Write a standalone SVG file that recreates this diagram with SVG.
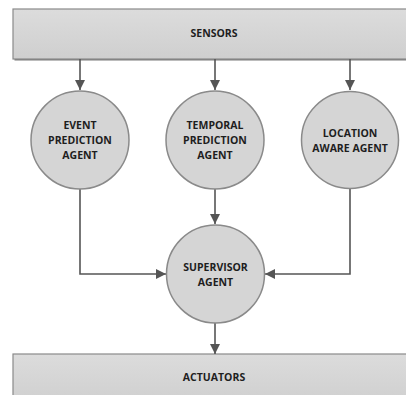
<svg xmlns="http://www.w3.org/2000/svg" width="406" height="395" viewBox="0 0 406 395">
<defs>
<linearGradient id="boxg" x1="0" y1="0" x2="0" y2="1">
<stop offset="0" stop-color="#dcdcdc"/>
<stop offset="1" stop-color="#cfcfcf"/>
</linearGradient>
<marker id="ah" viewBox="0 0 10 10" refX="10" refY="5" markerWidth="10" markerHeight="10" markerUnits="userSpaceOnUse" orient="auto">
<path d="M0,0 L10,5 L0,10 Z" fill="#555"/>
</marker>
</defs>
<style>
.box{fill:url(#boxg);stroke:#8a8a8a;stroke-width:1.2}
.shadow{fill:#7a7a7a}
.node{fill:#d5d5d5;stroke:#8a8a8a;stroke-width:1.5}
.lbl{font-family:"Open Sans","Liberation Sans",sans-serif;font-weight:700;font-size:10.5px;fill:#1e1e1e;text-anchor:middle}
.conn{fill:none;stroke:#555;stroke-width:1.6;marker-end:url(#ah)}
</style>
<g id="sensors">
<rect class="shadow" x="14.5" y="10.5" width="400" height="50"/>
<rect class="box" x="13" y="9" width="400" height="50"/>
<text class="lbl" x="214" y="37">SENSORS</text>
</g>
<g id="actuators">
<rect class="shadow" x="14.5" y="355.5" width="400" height="50"/>
<rect class="box" x="13" y="354" width="400" height="50"/>
<text class="lbl" x="214" y="381">ACTUATORS</text>
</g>
<g id="connectors">
<path class="conn" d="M80,59 V90"/>
<path class="conn" d="M215,59 V90"/>
<path class="conn" d="M350,59 V90"/>
<path class="conn" d="M215,189 V224"/>
<path class="conn" d="M80,189 V274 H166"/>
<path class="conn" d="M350,188 V274 H265"/>
<path class="conn" d="M215,323 V354"/>
</g>
<g id="event">
<circle class="node" cx="80" cy="140" r="49"/>
<text class="lbl" x="80" y="129">EVENT</text>
<text class="lbl" x="80" y="144">PREDICTION</text>
<text class="lbl" x="80" y="159">AGENT</text>
</g>
<g id="temporal">
<circle class="node" cx="215" cy="140" r="49"/>
<text class="lbl" x="215" y="129">TEMPORAL</text>
<text class="lbl" x="215" y="144">PREDICTION</text>
<text class="lbl" x="215" y="159">AGENT</text>
</g>
<g id="location">
<circle class="node" cx="350" cy="140" r="48.5"/>
<text class="lbl" x="350" y="137">LOCATION</text>
<text class="lbl" x="350" y="152">AWARE AGENT</text>
</g>
<g id="supervisor">
<circle class="node" cx="215.5" cy="274" r="49"/>
<text class="lbl" x="215.5" y="271">SUPERVISOR</text>
<text class="lbl" x="215.5" y="286">AGENT</text>
</g>
</svg>
